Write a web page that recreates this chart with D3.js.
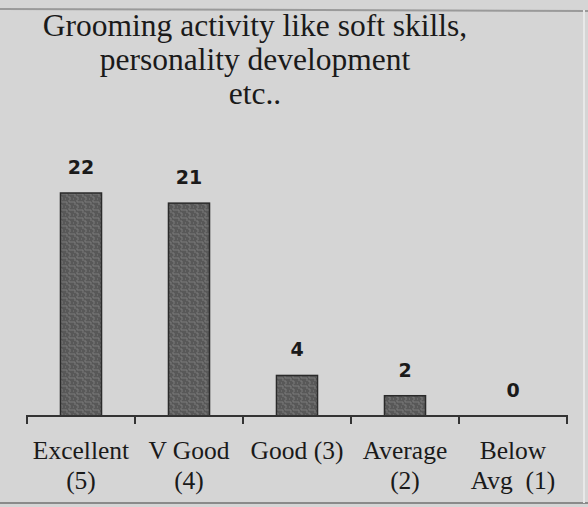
<!DOCTYPE html>
<html>
<head>
<meta charset="utf-8">
<script src="https://d3js.org/d3.v7.min.js"></script>
<style>
  body { margin: 0; background: #d5d5d5; }
  svg { display: block; }
</style>
</head>
<body>
<svg id="chart" width="588" height="507"></svg>
<script>
// chart data
var titleLines = ["Grooming activity like soft skills,", "personality development", "etc.."];
var categories = ["Excellent (5)", "V Good (4)", "Good (3)", "Average (2)", "Below Avg (1)"];
var labelLines = [["Excellent", "(5)"], ["V Good", "(4)"], ["Good (3)"], ["Average", "(2)"], ["Below", "Avg\u00a0\u00a0(1)"]];
var values = [22, 21, 4, 2, 0];

var svg = d3.select('#chart'),
    width = +svg.attr('width'),
    height = +svg.attr('height');

// page background + frame edges of the photographed slide
svg.append('rect').attr('width', width).attr('height', height).attr('fill', '#d5d5d5');
svg.append('line').attr('x1', 0).attr('x2', width).attr('y1', 9).attr('y2', 11)
  .attr('stroke', '#9a9a9a').attr('stroke-width', 2);
svg.append('line').attr('x1', 0).attr('x2', width).attr('y1', 503).attr('y2', 503)
  .attr('stroke', '#8a8a8a').attr('stroke-width', 2);
svg.append('line').attr('x1', 584).attr('x2', 584).attr('y1', 10).attr('y2', 503)
  .attr('stroke', '#e8e8e8').attr('stroke-width', 2);

// texture for the bars
var defs = svg.append('defs');
var pat = defs.append('pattern').attr('id', 'grain')
  .attr('patternUnits', 'userSpaceOnUse').attr('width', 8).attr('height', 8);
pat.append('rect').attr('width', 8).attr('height', 8).attr('fill', '#585858');
pat.append('path').attr('d', 'M0,2 h3 v3 M5,0 v2 h3 M4,5 h2 v3 M1,7 h1')
  .attr('stroke', '#7a7a7a').attr('stroke-width', 1).attr('fill', 'none');

var margin = {left: 27, right: 21, bottom: 416};

var x = d3.scaleBand()
  .domain(categories)
  .range([margin.left, width - margin.right])
  .paddingInner(0.62)
  .paddingOuter(0.31);

var y = d3.scaleLinear()
  .domain([0, 22])
  .range([margin.bottom, 193]);

// title
svg.append('g').selectAll('text')
  .data(titleLines)
  .enter()
  .append('text')
  .attr('x', 255)
  .attr('y', function (d, i) { return 36 + i * 34; })
  .attr('text-anchor', 'middle')
  .attr('font-family', 'Liberation Serif, serif')
  .attr('font-size', 31.5)
  .attr('fill', '#1a1a1a')
  .text(function (d) { return d; });

// bars
svg.append('g').selectAll('rect')
  .data(values)
  .enter()
  .append('rect')
  .attr('x', function (d, i) { return x(categories[i]); })
  .attr('y', function (d) { return y(d); })
  .attr('width', x.bandwidth())
  .attr('height', function (d) { return y(0) - y(d); })
  .attr('fill', 'url(#grain)')
  .attr('stroke', '#2a2a2a')
  .attr('stroke-width', 1.5);

// value labels
svg.append('g').selectAll('text')
  .data(values)
  .enter()
  .append('text')
  .attr('x', function (d, i) { return x(categories[i]) + x.bandwidth() / 2; })
  .attr('y', function (d) { return y(d) - 19; })
  .attr('text-anchor', 'middle')
  .attr('font-family', 'DejaVu Sans, sans-serif')
  .attr('font-weight', 'bold')
  .attr('font-size', 19)
  .attr('fill', '#1a1a1a')
  .text(function (d) { return d; });

// x axis
var axis = d3.axisBottom(x).tickSize(0).tickFormat('');
var gx = svg.append('g')
  .attr('transform', 'translate(0,' + margin.bottom + ')')
  .call(axis);
gx.select('.domain').attr('stroke', '#333').attr('stroke-width', 2).attr('d',
  'M' + margin.left + ',8V0H' + (width - margin.right) + 'V8');

// band boundary ticks
var step = x.step();
var bounds = d3.range(1, categories.length).map(function (i) {
  return x(categories[i]) - x.paddingInner() * step / 2;
});
gx.selectAll('.sep')
  .data(bounds)
  .enter()
  .append('line')
  .attr('class', 'sep')
  .attr('x1', function (d) { return d; })
  .attr('x2', function (d) { return d; })
  .attr('y1', 0)
  .attr('y2', 8)
  .attr('stroke', '#333')
  .attr('stroke-width', 2);

// category labels
var lab = svg.append('g').selectAll('text')
  .data(labelLines)
  .enter()
  .append('text')
  .attr('text-anchor', 'middle')
  .attr('font-family', 'Liberation Serif, serif')
  .attr('font-size', 25.5)
  .attr('fill', '#1a1a1a');

lab.each(function (lines, i) {
  var cx = x(categories[i]) + x.bandwidth() / 2;
  d3.select(this).selectAll('tspan')
    .data(lines)
    .enter()
    .append('tspan')
    .attr('x', cx)
    .attr('y', function (d, j) { return 459 + j * 30; })
    .text(function (d) { return d; });
});
</script>
</body>
</html>
